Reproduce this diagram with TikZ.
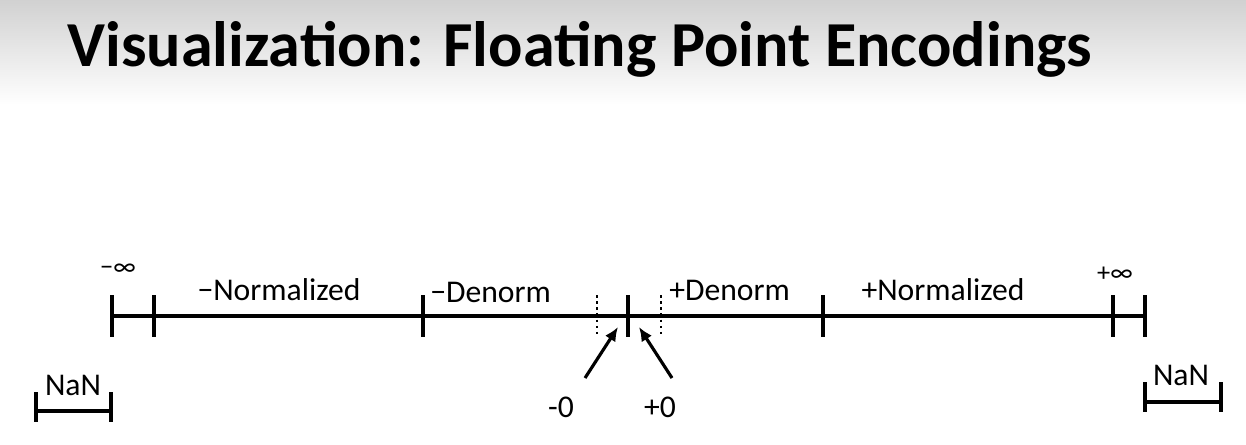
\documentclass[tikz,border=0pt]{standalone}
\usepackage{fontspec}
\setmainfont{Carlito}
\usetikzlibrary{positioning,arrows.meta}

\begin{document}
\begin{tikzpicture}[x=0.02cm, y=-0.02cm, every node/.style={font=\fontsize{18}{20}\selectfont, inner sep=0pt}, axis/.style={line width=2pt}, tk/.style={line width=1.8pt}, dt/.style={line width=1.5pt, dotted}, ar/.style={line width=1.8pt, -{Latex[length=8pt,width=7pt]}}]
% background and title
\useasboundingbox (0,0) rectangle (1246,444);
\shade[top color=black!18, bottom color=white] (0,0) rectangle (1246,105);
\fill[white] (0,105) rectangle (1246,444);
\node[anchor=base west, font=\fontsize{36.5}{40}\selectfont\bfseries] (title) at (67,66) {Visualization: Floating Point Encodings};
% number line
\coordinate (l) at (112,316); \coordinate (r) at (1145,316);
\draw[axis] (l) -- (r);
\foreach \x in {112,154,423,628,823,1113,1145} \draw[tk] (\x,295) -- (\x,337);
\foreach \x in {597,661} \draw[dt] (\x,295) -- (\x,334);
% labels
\node[anchor=base, font=\fontsize{15}{16}\selectfont] (ninf) at (118,275) {−∞};
\node[anchor=base, font=\fontsize{15}{16}\selectfont] (pinf) at (1115,281) {+∞};
\node[anchor=base] (nnorm) at (279,300) {−Normalized};
\node[anchor=base west] (nden) at (430,302) {−Denorm};
\node[anchor=base west] (pden) at (669,300) {+Denorm};
\node[anchor=base] (pnorm) at (943,300) {+Normalized};
\node[anchor=base] (mzero) at (561,417) {-0};
\node[anchor=base] (pzero) at (660,417) {+0};
% zero arrows
\coordinate (z1) at (585,378); \coordinate (z2) at (672,378);
\coordinate (m1) at (618,327); \coordinate (m2) at (639,327);
\draw[ar] (z1) -- (m1); \draw[ar] (z2) -- (m2);
% NaN brackets
\node[anchor=base] (nanl) at (73,395) {NaN};
\draw[tk] (36,392) -- (36,422); \draw[tk] (111,392) -- (111,422); \draw[tk] (36,411) -- (111,411);
\node[anchor=base] (nanr) at (1181,385) {NaN};
\draw[tk] (1145,382) -- (1145,412); \draw[tk] (1221,382) -- (1221,412); \draw[tk] (1145,402) -- (1221,402);
\end{tikzpicture}
\end{document}
